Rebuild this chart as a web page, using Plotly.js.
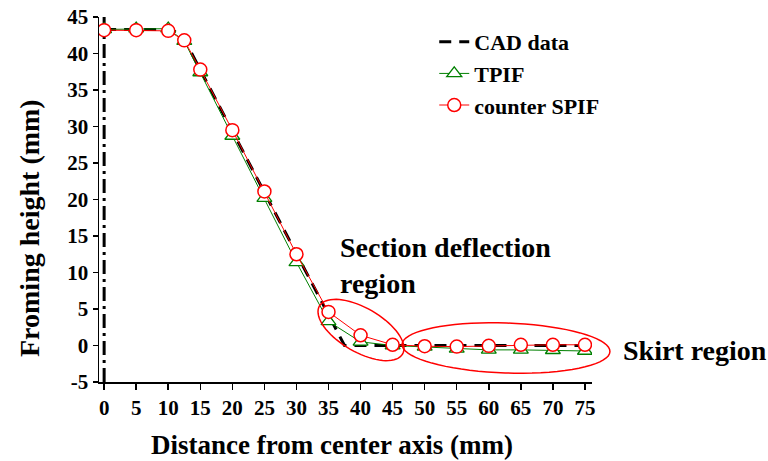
<!DOCTYPE html>
<html>
<head>
<meta charset="utf-8">
<script src="https://cdn.plot.ly/plotly-3.0.1.min.js"></script>
<style>
  html, body { margin: 0; padding: 0; background: #fff; }
  #chart { width: 768px; height: 461px; }
</style>
</head>
<body>
<div id="chart"></div>
<script>
// Profile of the formed part: height vs. distance from the centre axis
const cadX = [0, 10, 12, 37.5, 75];
const cadY = [43.3, 43.3, 42.8, 0, 0];

const measX = [0, 5, 10, 12.5, 15, 20, 25, 30, 35, 40, 45, 50, 55, 60, 65, 70, 75];
const tpifY = [43.3, 43.4, 43.4, 41.7, 37.4, 28.7, 20.2, 11.4, 3.3, 0.5, 0.0, -0.2, -0.45, -0.6, -0.6, -0.65, -0.75];
const spifY = [43.2, 43.2, 43.1, 41.8, 37.8, 29.5, 21.1, 12.5, 4.6, 1.4, 0.1, -0.1, -0.15, -0.05, 0.1, 0.1, 0.1];

const axisX = [0, 0];
const axisY = [-5, 45];

const xTicks = [0, 5, 10, 15, 20, 25, 30, 35, 40, 45, 50, 55, 60, 65, 70, 75];
const yTicks = [-5, 0, 5, 10, 15, 20, 25, 30, 35, 40, 45];

const FONT = '"Liberation Serif", "DejaVu Serif", serif';

// plot-area geometry (pixels) and axis ranges
const W = 768, H = 461;
const M = { l: 99, r: 176, t: 17, b: 79 };
const xRange = [-0.8, 76.1];
const yRange = [-5, 45];
const pw = W - M.l - M.r, ph = H - M.t - M.b;

// screen pixel -> paper fraction
function toPaper(px, py) {
  return [(px - M.l) / pw, (M.t + ph - py) / ph];
}

// rotated ellipse outline in paper coordinates (not clipped to the plot area)
function ellipsePath(cx, cy, a, b, deg) {
  const th = deg * Math.PI / 180;
  const pts = [];
  for (let i = 0; i <= 72; i++) {
    const t = i / 72 * 2 * Math.PI;
    const px = cx + a * Math.cos(t) * Math.cos(th) - b * Math.sin(t) * Math.sin(th);
    const py = cy + a * Math.cos(t) * Math.sin(th) + b * Math.sin(t) * Math.cos(th);
    const d = toPaper(px, py);
    pts.push((i === 0 ? 'M' : 'L') + d[0].toFixed(5) + ',' + d[1].toFixed(5));
  }
  return pts.join(' ') + ' Z';
}

const traces = [
  {
    x: axisX, y: axisY, mode: 'lines', showlegend: false, hoverinfo: 'skip',
    line: { color: '#000', width: 3, dash: '14px,5px,3px,5px' }
  },
  {
    name: 'CAD data', x: cadX, y: cadY, mode: 'lines',
    line: { color: '#000', width: 3, dash: '12px,8px' }
  },
  {
    name: 'TPIF', x: measX, y: tpifY, mode: 'lines+markers',
    line: { color: '#008000', width: 1 },
    marker: { symbol: 'triangle-up', size: 13, color: '#fff', line: { color: '#008000', width: 1.3 } }
  },
  {
    name: 'counter SPIF', x: measX, y: spifY, mode: 'lines+markers',
    line: { color: '#ff0000', width: 1 },
    marker: { symbol: 'circle', size: 13, color: '#fff', line: { color: '#ff0000', width: 1.5 } }
  }
];

const layout = {
  width: W, height: H,
  margin: M,
  paper_bgcolor: '#fff', plot_bgcolor: '#fff',
  font: { family: FONT, color: '#000' },
  xaxis: {
    range: xRange, tickvals: xTicks, ticktext: xTicks.map(String),
    showgrid: false, zeroline: false, showline: true, linecolor: '#000', linewidth: 1.5,
    ticks: 'outside', ticklen: 6, tickwidth: 1.5, tickcolor: '#000',
    tickfont: { family: FONT, size: 21, weight: 'bold', color: '#000' }
  },
  yaxis: {
    range: yRange, tickvals: yTicks, ticktext: yTicks.map(String),
    showgrid: false, zeroline: false, showline: true, linecolor: '#000', linewidth: 1.5,
    ticks: 'outside', ticklen: 5, tickwidth: 1.5, tickcolor: '#000',
    tickfont: { family: FONT, size: 21, weight: 'bold', color: '#000' }
  },
  legend: {
    x: 0.68, y: 0.989, xanchor: 'left', yanchor: 'top',
    bgcolor: 'rgba(0,0,0,0)',
    font: { family: FONT, size: 22, weight: 'bold', color: '#000' },
    tracegroupgap: 0
  },
  shapes: [
    { type: 'path', xref: 'paper', yref: 'paper', path: ellipsePath(361, 330, 48, 22, 30),
      line: { color: '#ff0000', width: 1.5 } },
    { type: 'path', xref: 'paper', yref: 'paper', path: ellipsePath(506, 348, 104, 25, 2),
      line: { color: '#ff0000', width: 1.5 } }
  ],
  annotations: [
    { text: '<b>Distance from center axis (mm)</b>', xref: 'paper', yref: 'paper',
      x: (332 - M.l) / pw, y: -(445 - M.t - ph) / ph, xanchor: 'center', yanchor: 'middle',
      showarrow: false, font: { family: FONT, size: 27, color: '#000' } },
    { text: '<b>Froming height (mm)</b>', xref: 'paper', yref: 'paper',
      x: (30 - M.l) / pw, y: (M.t + ph - 228) / ph, xanchor: 'center', yanchor: 'middle',
      textangle: -90, showarrow: false, font: { family: FONT, size: 28, color: '#000' } },
    { text: '<b>Section deflection<br>region</b>', xref: 'paper', yref: 'paper',
      x: (338 - M.l) / pw, y: (M.t + ph - 230) / ph, xanchor: 'left', yanchor: 'top',
      align: 'left', showarrow: false, font: { family: FONT, size: 28, color: '#000' } },
    { text: '<b>Skirt region</b>', xref: 'paper', yref: 'paper',
      x: (621 - M.l) / pw, y: (M.t + ph - 350) / ph, xanchor: 'left', yanchor: 'middle',
      showarrow: false, font: { family: FONT, size: 28, color: '#000' } }
  ]
};

Plotly.newPlot('chart', traces, layout, { staticPlot: true, displayModeBar: false });
</script>
</body>
</html>
